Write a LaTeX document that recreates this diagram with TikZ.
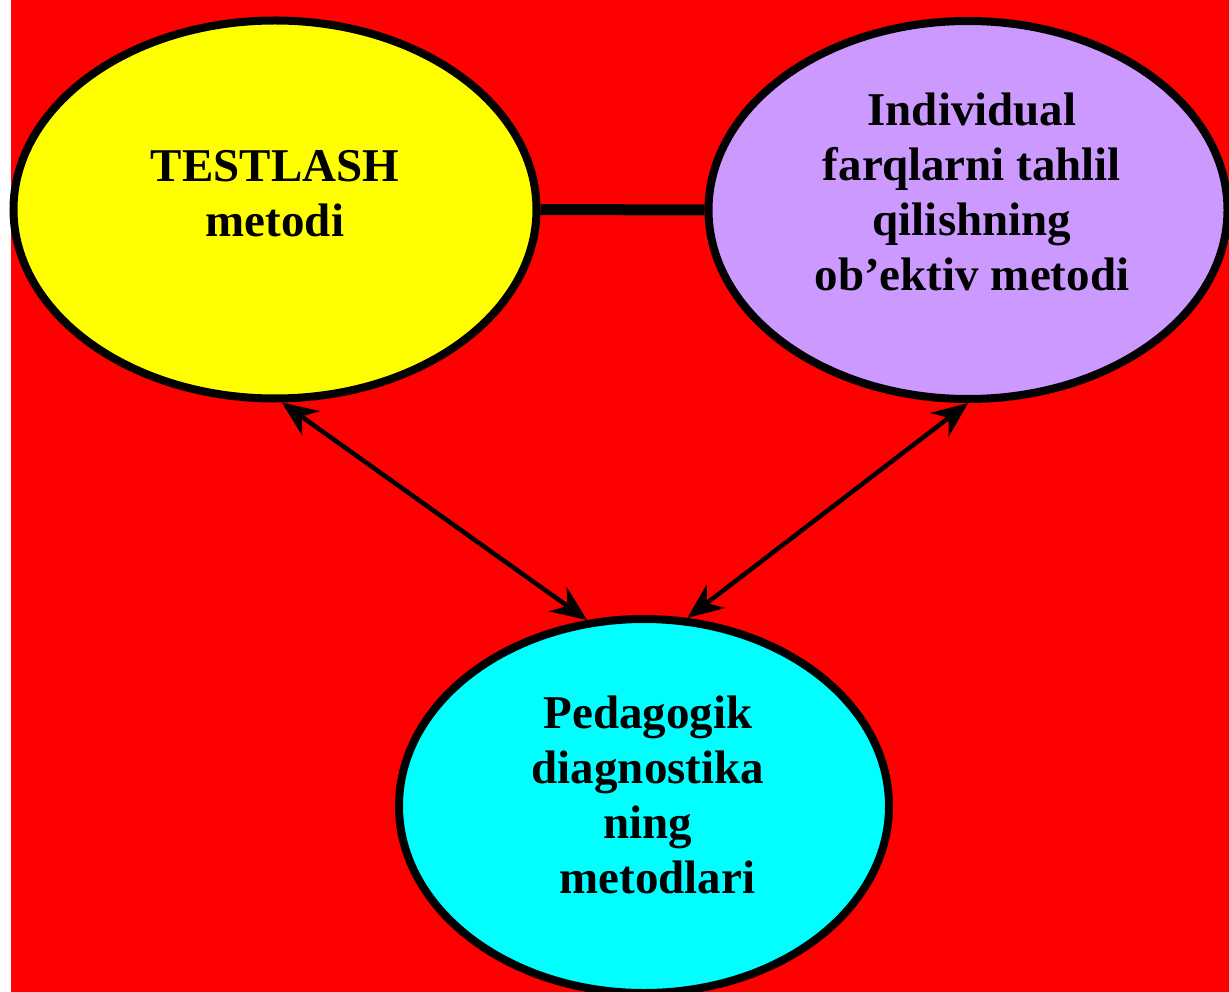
\documentclass[tikz,border=0pt]{standalone}
\usepackage{fontspec}
\setmainfont{Liberation Serif}
\usetikzlibrary{shapes.geometric,arrows.meta}
\definecolor{bgred}{HTML}{FF0000}
\definecolor{ovalyellow}{HTML}{FFFF00}
\definecolor{ovalviolet}{HTML}{CC99FF}
\definecolor{ovalcyan}{HTML}{00FFFF}
\begin{document}
\begin{tikzpicture}[
		oval/.style={ellipse, draw=black, line width=8pt, inner sep=0pt},
		lbl/.style={align=center, inner sep=0pt, font=\bfseries\fontsize{47}{55}\selectfont},
		link/.style={draw=black, line width=11pt},
		biarrow/.style={draw=black, line width=4.5pt, {Stealth[length=36pt, width=30pt]}-{Stealth[length=36pt, width=30pt]}}]
		\useasboundingbox (0pt, 0pt) rectangle (1229pt, -992pt);
		\begin{scope}
		\clip (0pt, 0pt) rectangle (1229pt, -992pt);
		\fill[white] (0pt, 0pt) rectangle (1229pt, -992pt);
		\fill[bgred] (11pt, 0pt) rectangle (1229pt, -992pt);

		\node[oval, fill=ovalyellow, minimum width=523pt, minimum height=378pt] (testlash) at (275pt, -209.5pt) {};
		\node[oval, fill=ovalviolet, minimum width=519pt, minimum height=378pt] (individual) at (968pt, -210pt) {};
		\node[oval, fill=ovalcyan, minimum width=490pt, minimum height=374pt] (pedagogik) at (644pt, -806pt) {};
		\end{scope}

		\draw[link] (testlash.east) -- (individual.west);
		\draw[biarrow] (testlash.272) -- (pedagogik.107.8);
		\draw[biarrow] (individual.south) -- (pedagogik.77.6);

		% matnlar
		\node[lbl] (testlashtxt) at ([yshift=16pt]testlash.center) {TESTLASH\\metodi};
		\node[lbl] (individualtxt) at ([xshift=4pt, yshift=18pt]individual.center) {Individual\\farqlarni tahlil\\qilishning\\ob’ektiv metodi};
		\node[lbl] (pedagogiktxt) at ([xshift=4pt, yshift=11pt]pedagogik.center) {Pedagogik\\diagnostika\\ning\\\hspace*{0.4em}metodlari};
	\end{tikzpicture}
\end{document}
